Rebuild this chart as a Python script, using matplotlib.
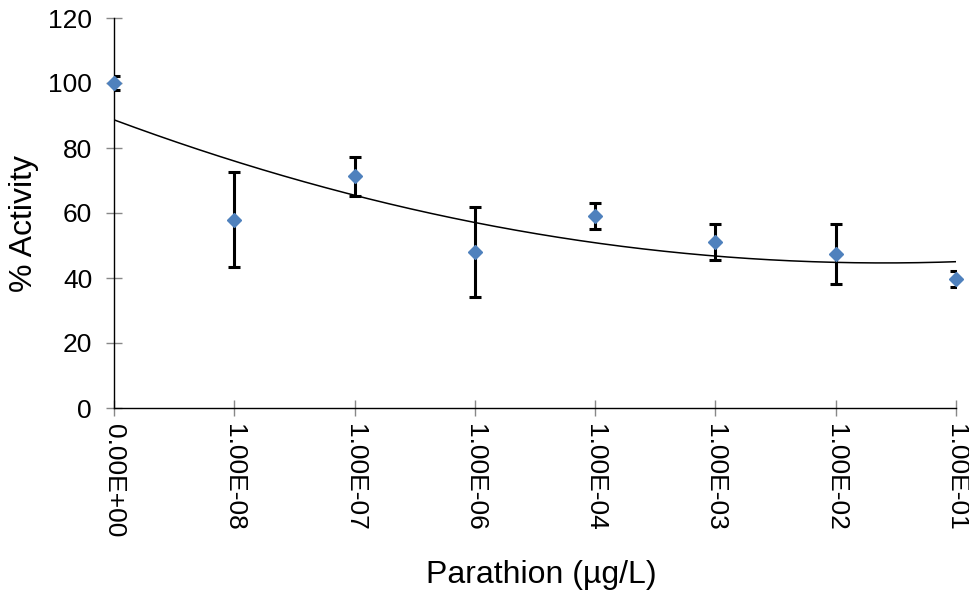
import numpy as np
import matplotlib.pyplot as plt

plt.rcParams['font.family'] = ['Liberation Sans', 'DejaVu Sans']

# concentration categories and measured activity
labels = ["0.00E+00", "1.00E-08", "1.00E-07", "1.00E-06",
          "1.00E-04", "1.00E-03", "1.00E-02", "1.00E-01"]
activity = [100.0, 57.9, 71.3, 48.0, 59.2, 51.0, 47.5, 39.7]
errors = [2.3, 14.6, 6.0, 13.9, 4.0, 5.6, 9.2, 2.4]

x = np.arange(len(labels))

fig = plt.figure(figsize=(9.69, 6.03), dpi=100)
ax = fig.add_axes([114 / 969, 1 - 408 / 603, (956 - 114) / 969, (408 - 18) / 603])

# second order polynomial trendline (Excel style, x = 1..n)
coef = np.polyfit(x + 1, activity, 2)
xs = np.linspace(0, len(labels) - 1, 200)
ax.plot(xs, np.polyval(coef, xs + 1), color='black', lw=1.1, zorder=2)

ax.errorbar(x, activity, yerr=errors, fmt='none', ecolor='black',
            elinewidth=2.2, capsize=4.3, capthick=2.2, zorder=3)
ax.plot(x, activity, 'D', color='#4F81BD', ms=7.6, mec='#4F81BD', zorder=4,
        clip_on=False)

ax.set_xlim(0, len(labels) - 1)
ax.set_ylim(0, 120)
ax.set_yticks(np.arange(0, 121, 20))
ax.set_xticks(x)
ax.set_xticklabels(labels, rotation=270, fontsize=19)
ax.tick_params(axis='y', labelsize=19, pad=10)
ax.tick_params(axis='x', pad=6)
ax.tick_params(direction='inout', length=11.5, width=1, color='#888888')

for side in ['top', 'right']:
    ax.spines[side].set_visible(False)
for side in ['left', 'bottom']:
    ax.spines[side].set_linewidth(1.0)

fig.text(24 / 969, 1 - 223 / 603, "% Activity", fontsize=23, rotation=90,
         ha='center', va='center')
fig.text(541 / 969, 1 - 575 / 603, "Parathion (µg/L)", fontsize=23,
         ha='center', va='center')

fig.savefig("out.png", dpi=100)
